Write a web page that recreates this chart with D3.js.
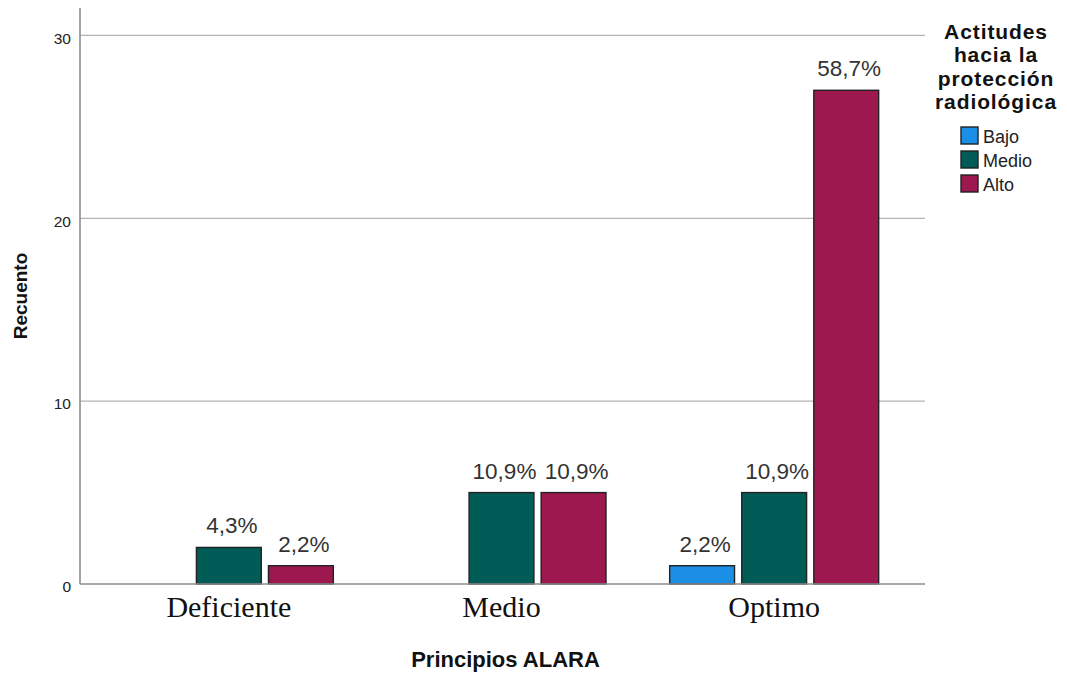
<!DOCTYPE html>
<html>
<head>
<meta charset="utf-8">
<script src="https://cdn.jsdelivr.net/npm/d3@7"></script>
<style>
  body { margin: 0; background: #fff; }
  svg { display: block; }
</style>
</head>
<body>
<svg id="chart" width="1067" height="677"></svg>
<script>
// Counts of respondents by ALARA principle level and attitude level
const categories = ["Deficiente", "Medio", "Optimo"];
const series = ["Bajo", "Medio", "Alto"];
const bajoValues = [0, 0, 1];
const medioValues = [2, 5, 5];
const altoValues = [1, 5, 27];
const yTicks = [0, 10, 20, 30];
const seriesColors = ["#1b8fe6", "#015c58", "#9c184e"];
const legendTitle = ["Actitudes", "hacia la", "protección", "radiológica"];
const xTitle = "Principios ALARA";
const yTitle = "Recuento";

const valuesBySeries = [bajoValues, medioValues, altoValues];
const total = d3.sum(valuesBySeries, v => d3.sum(v));

const rows = [];
categories.forEach((c, ci) => {
  series.forEach((s, si) => {
    rows.push({ category: c, series: s, si, value: valuesBySeries[si][ci] });
  });
});

const svg = d3.select("#chart");
const plotLeft = 80, plotRight = 925, plotTop = 8, plotBottom = 584;

const y = d3.scaleLinear().domain([0, 31.5]).range([plotBottom, plotTop]);
const x = d3.scaleBand().domain(categories).range([92.5, 910.5]).padding(0);
const groupWidth = 209;
const xInner = d3.scaleBand().domain(series).range([0, groupWidth]).paddingInner(0.1);
const color = d3.scaleOrdinal().domain(series).range(seriesColors);
// left edge of a bar: the cluster is centred in its category band
const barX = d => x(d.category) + x.bandwidth() / 2 - groupWidth / 2 + xInner(d.series);

// Gridlines
svg.append("g")
  .selectAll("line")
  .data(yTicks.filter(t => t > 0))
  .join("line")
  .attr("x1", plotLeft).attr("x2", plotRight)
  .attr("y1", d => y(d)).attr("y2", d => y(d))
  .attr("stroke", "#b4b4b4").attr("stroke-width", 1.2);

// Y axis
const yAxis = svg.append("g")
  .attr("transform", `translate(${plotLeft},0)`)
  .call(d3.axisLeft(y).tickValues(yTicks).tickSize(0).tickPadding(9));
yAxis.select(".domain").remove();
yAxis.selectAll("text")
  .attr("font-family", "Liberation Sans, Arial, sans-serif")
  .attr("font-size", 15.5)
  .attr("fill", "#222")
  .attr("dy", "0.5em");

svg.append("line")
  .attr("x1", plotLeft).attr("x2", plotLeft)
  .attr("y1", plotTop).attr("y2", plotBottom)
  .attr("stroke", "#8c8c8c").attr("stroke-width", 1.6);

// Bars
const barLayer = svg.append("g");
const drawn = rows.filter(d => d.value > 0);
barLayer.selectAll("rect")
  .data(drawn)
  .join("rect")
  .attr("x", barX)
  .attr("y", d => y(d.value))
  .attr("width", xInner.bandwidth())
  .attr("height", d => y(0) - y(d.value))
  .attr("fill", d => color(d.series))
  .attr("stroke", "#222")
  .attr("stroke-width", 1.4);

// X axis baseline
svg.append("line")
  .attr("x1", plotLeft).attr("x2", plotRight)
  .attr("y1", plotBottom).attr("y2", plotBottom)
  .attr("stroke", "#8c8c8c").attr("stroke-width", 1.6);

// Percentage labels
const fmt = v => d3.format(".1f")(v).replace(".", ",") + "%";
barLayer.selectAll("text")
  .data(drawn)
  .join("text")
  .attr("x", d => barX(d) + xInner.bandwidth() / 2 + 3)
  .attr("y", d => y(d.value) - 14)
  .attr("text-anchor", "middle")
  .attr("font-family", "Liberation Sans, Arial, sans-serif")
  .attr("font-size", 22.5)
  .attr("fill", "#333")
  .text(d => fmt(d.value / total * 100));

// Category labels
const xAxis = svg.append("g")
  .attr("transform", `translate(0,${plotBottom})`)
  .call(d3.axisBottom(x).tickSize(0).tickPadding(0));
xAxis.select(".domain").remove();
xAxis.selectAll("text")
  .attr("font-family", "Liberation Serif, Times New Roman, serif")
  .attr("font-size", 30)
  .attr("fill", "#111")
  .attr("dy", null)
  .attr("y", 33);

// Axis titles
svg.append("text")
  .attr("x", (plotLeft + plotRight) / 2 + 3)
  .attr("y", 667)
  .attr("text-anchor", "middle")
  .attr("font-family", "Liberation Sans, Arial, sans-serif")
  .attr("font-weight", "bold")
  .attr("font-size", 22)
  .attr("fill", "#111")
  .text(xTitle);

svg.append("text")
  .attr("transform", `translate(27,${(plotTop + plotBottom) / 2}) rotate(-90)`)
  .attr("text-anchor", "middle")
  .attr("font-family", "Liberation Sans, Arial, sans-serif")
  .attr("font-weight", "bold")
  .attr("font-size", 19)
  .attr("fill", "#111")
  .text(yTitle);

// Legend: wrapped title lines, then swatches
const legend = svg.append("g");
legend.selectAll("text.title")
  .data(legendTitle)
  .join("text")
  .attr("class", "title")
  .attr("x", 996)
  .attr("y", (d, i) => 38.5 + i * 23.6)
  .attr("text-anchor", "middle")
  .attr("font-family", "Liberation Sans, Arial, sans-serif")
  .attr("font-weight", "bold")
  .attr("font-size", 21)
  .attr("letter-spacing", 0.9)
  .attr("fill", "#111")
  .text(d => d);

const items = legend.selectAll("g.item")
  .data(series)
  .join("g")
  .attr("class", "item")
  .attr("transform", (d, i) => `translate(961,${127 + i * 24})`);
items.append("rect")
  .attr("width", 17).attr("height", 17)
  .attr("fill", d => color(d))
  .attr("stroke", "#222").attr("stroke-width", 1.4);
items.append("text")
  .attr("x", 22).attr("y", 16)
  .attr("font-family", "Liberation Sans, Arial, sans-serif")
  .attr("font-size", 18)
  .attr("fill", "#222")
  .text(d => d);
</script>
</body>
</html>
